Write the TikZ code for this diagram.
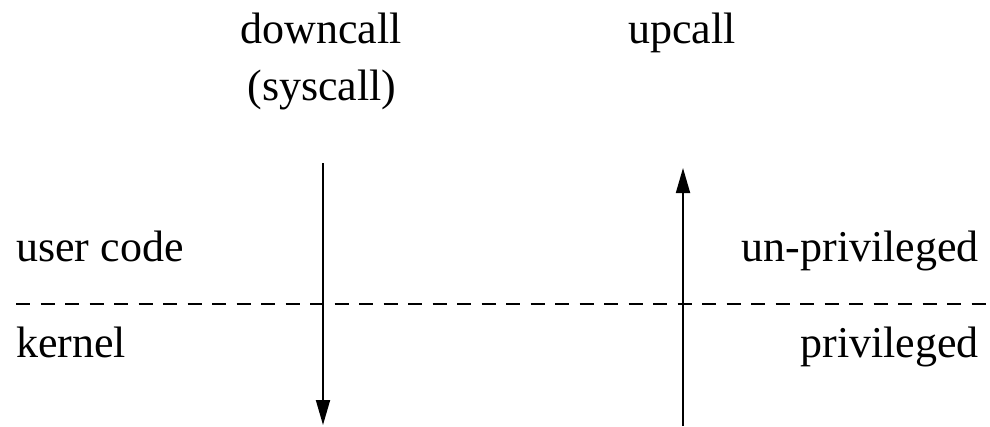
\documentclass[tikz,border=0pt]{standalone}
\usepackage{fontspec}
\setmainfont{Liberation Serif}
\usetikzlibrary{arrows.meta}
\begin{document}
\begin{tikzpicture}[x=1pt,y=-1pt,
  label/.style={inner sep=0pt,font=\fontsize{44}{52}\selectfont},
  call/.style={line width=1.8pt,-{Triangle[length=25pt,width=14pt]}},
  boundary/.style={line width=2.2pt,dash pattern=on 14pt off 10.5pt}]
  \useasboundingbox (0,0) rectangle (990,426);

  % column headings
  \node[label,anchor=base] (down) at (321,43) {downcall};
  \node[label,anchor=base] (sys) at (322,100) {(syscall)};
  \node[label,anchor=base] (up) at (682,43) {upcall};

  % side labels
  \node[label,anchor=base west] (user) at (16,261) {user code};
  \node[label,anchor=base west] (kern) at (16,357) {kernel};
  \node[label,anchor=base east] (unpriv) at (979,261) {un-privileged};
  \node[label,anchor=base east] (priv) at (979,357) {privileged};

  % user/kernel boundary
  \coordinate (bl) at (16,304);
  \coordinate (br) at (990,304);
  \draw[boundary] (bl) -- (br);

  % call arrows
  \coordinate (dtop) at (323,163);
  \coordinate (dbot) at (323,425);
  \coordinate (ubot) at (683,426);
  \coordinate (utop) at (683,168);
  \draw[call] (dtop) -- (dbot);
  \draw[call] (ubot) -- (utop);
\end{tikzpicture}
\end{document}
